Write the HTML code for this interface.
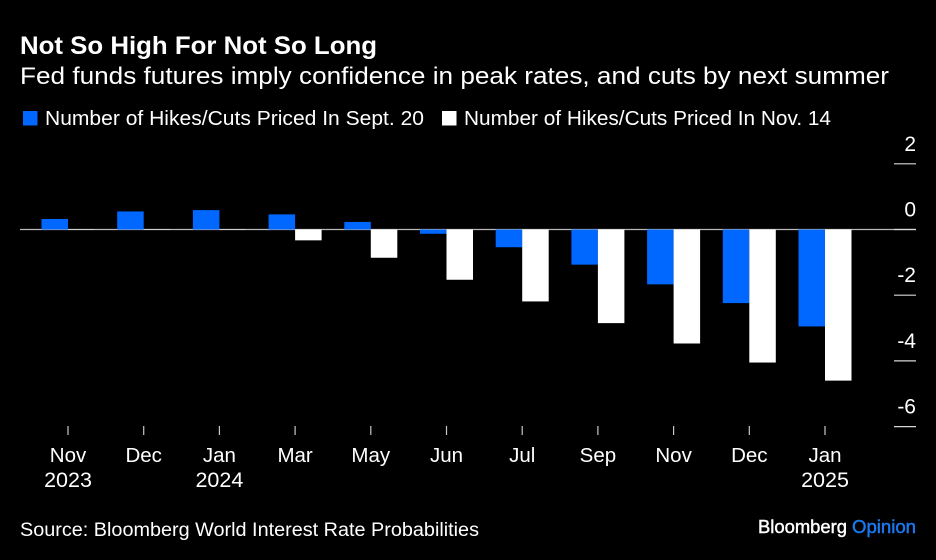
<!DOCTYPE html>
<html lang="en">
<head>
<meta charset="utf-8">
<title>Not So High For Not So Long</title>
<style>
html,body{margin:0;padding:0;background:#000;width:936px;height:560px;overflow:hidden}
svg{display:block}
text{font-family:"Liberation Sans",sans-serif;fill:#fff}
</style>
</head>
<body>
<svg id="chart" xmlns="http://www.w3.org/2000/svg" width="936" height="560" viewBox="0 0 936 560">
  <rect x="0" y="0" width="936" height="560" fill="#000"/>
  <text x="20" y="54" font-size="25" font-weight="700" textLength="357" lengthAdjust="spacingAndGlyphs">Not So High For Not So Long</text>
  <text x="20" y="84" font-size="24" textLength="869" lengthAdjust="spacingAndGlyphs">Fed funds futures imply confidence in peak rates, and cuts by next summer</text>
  <g>
    <rect x="23" y="111" width="14.5" height="14.5" fill="#0068ff"/>
    <text x="45" y="125" font-size="20" textLength="379" lengthAdjust="spacingAndGlyphs">Number of Hikes/Cuts Priced In Sept. 20</text>
    <rect x="442" y="111" width="14.5" height="14.5" fill="#fff"/>
    <text x="464" y="125" font-size="20" textLength="367" lengthAdjust="spacingAndGlyphs">Number of Hikes/Cuts Priced In Nov. 14</text>
  </g>
  <g id="plot"></g>
  <text x="20" y="536" font-size="19" textLength="459" lengthAdjust="spacingAndGlyphs">Source: Bloomberg World Interest Rate Probabilities</text>
  <g>
    <text x="758" y="533" font-size="18.5" stroke="#fff" stroke-width="0.45" textLength="89" lengthAdjust="spacingAndGlyphs">Bloomberg</text>
    <text x="852" y="533" font-size="18.5" stroke="#1a78f0" stroke-width="0.45" textLength="64" lengthAdjust="spacingAndGlyphs" style="fill:#1a78f0">Opinion</text>
  </g>
</svg>
<script>
const months = ['Nov','Dec','Jan','Mar','May','Jun','Jul','Sep','Nov','Dec','Jan'];
const years = ['2023','','2024','','','','','','','','2025'];
const septValues = [0.32,0.55,0.59,0.46,0.23,-0.13,-0.54,-1.07,-1.67,-2.24,-2.95];
const novValues = [0.01,0.01,-0.01,-0.33,-0.86,-1.53,-2.19,-2.85,-3.47,-4.05,-4.6];
const yTicks = [2,0,-2,-4,-6];

const SVG_NS = 'http://www.w3.org/2000/svg';
const plot = document.getElementById('plot');
const yScale = v => 229.5 - v * 32.85;
const xCenter = i => 68 + i * 75.7;
const barWidth = 26.5;

function mk(tag, attrs, text) {
  const el = document.createElementNS(SVG_NS, tag);
  for (const k in attrs) el.setAttribute(k, attrs[k]);
  if (text !== undefined) el.textContent = text;
  plot.appendChild(el);
  return el;
}

const zeroLine = mk('line', {x1: 20, x2: 916, y1: yScale(0), y2: yScale(0), stroke: '#b8b8b8', 'stroke-width': 1.2});



yTicks.forEach(t => {
  const tick = mk('line', {x1: 894, x2: 916, y1: yScale(t), y2: yScale(t), stroke: '#d8d8d8', 'stroke-width': 1.2});
  
  
  const label = mk('text', {x: 916, y: yScale(t) - 13, 'font-size': 21, 'text-anchor': 'end'}, String(t));
  
  
});

months.forEach((m, i) => {
  const cx = xCenter(i);
  const a = septValues[i];
  const b = novValues[i];
  const blue = mk('rect', {x: cx - barWidth, width: barWidth, y: Math.min(yScale(a), yScale(0)), height: Math.abs(yScale(a) - yScale(0)), fill: '#0068ff'});
  
  
  const white = mk('rect', {x: cx, width: barWidth, y: Math.min(yScale(b), yScale(0)), height: Math.abs(yScale(b) - yScale(0)), fill: '#fff'});
  
  
  const tick = mk('line', {x1: cx, x2: cx, y1: 426, y2: 435, stroke: '#c8c8c8', 'stroke-width': 1.2});
  
  
  const label = mk('text', {x: cx, y: 462, 'font-size': 20.5, 'text-anchor': 'middle'}, m);
  
  
  if (years[i]) {
    const yearLabel = mk('text', {x: cx, y: 487, 'font-size': 21.5, 'text-anchor': 'middle'}, years[i]);
    
    
  }
});
</script>
</body>
</html>
